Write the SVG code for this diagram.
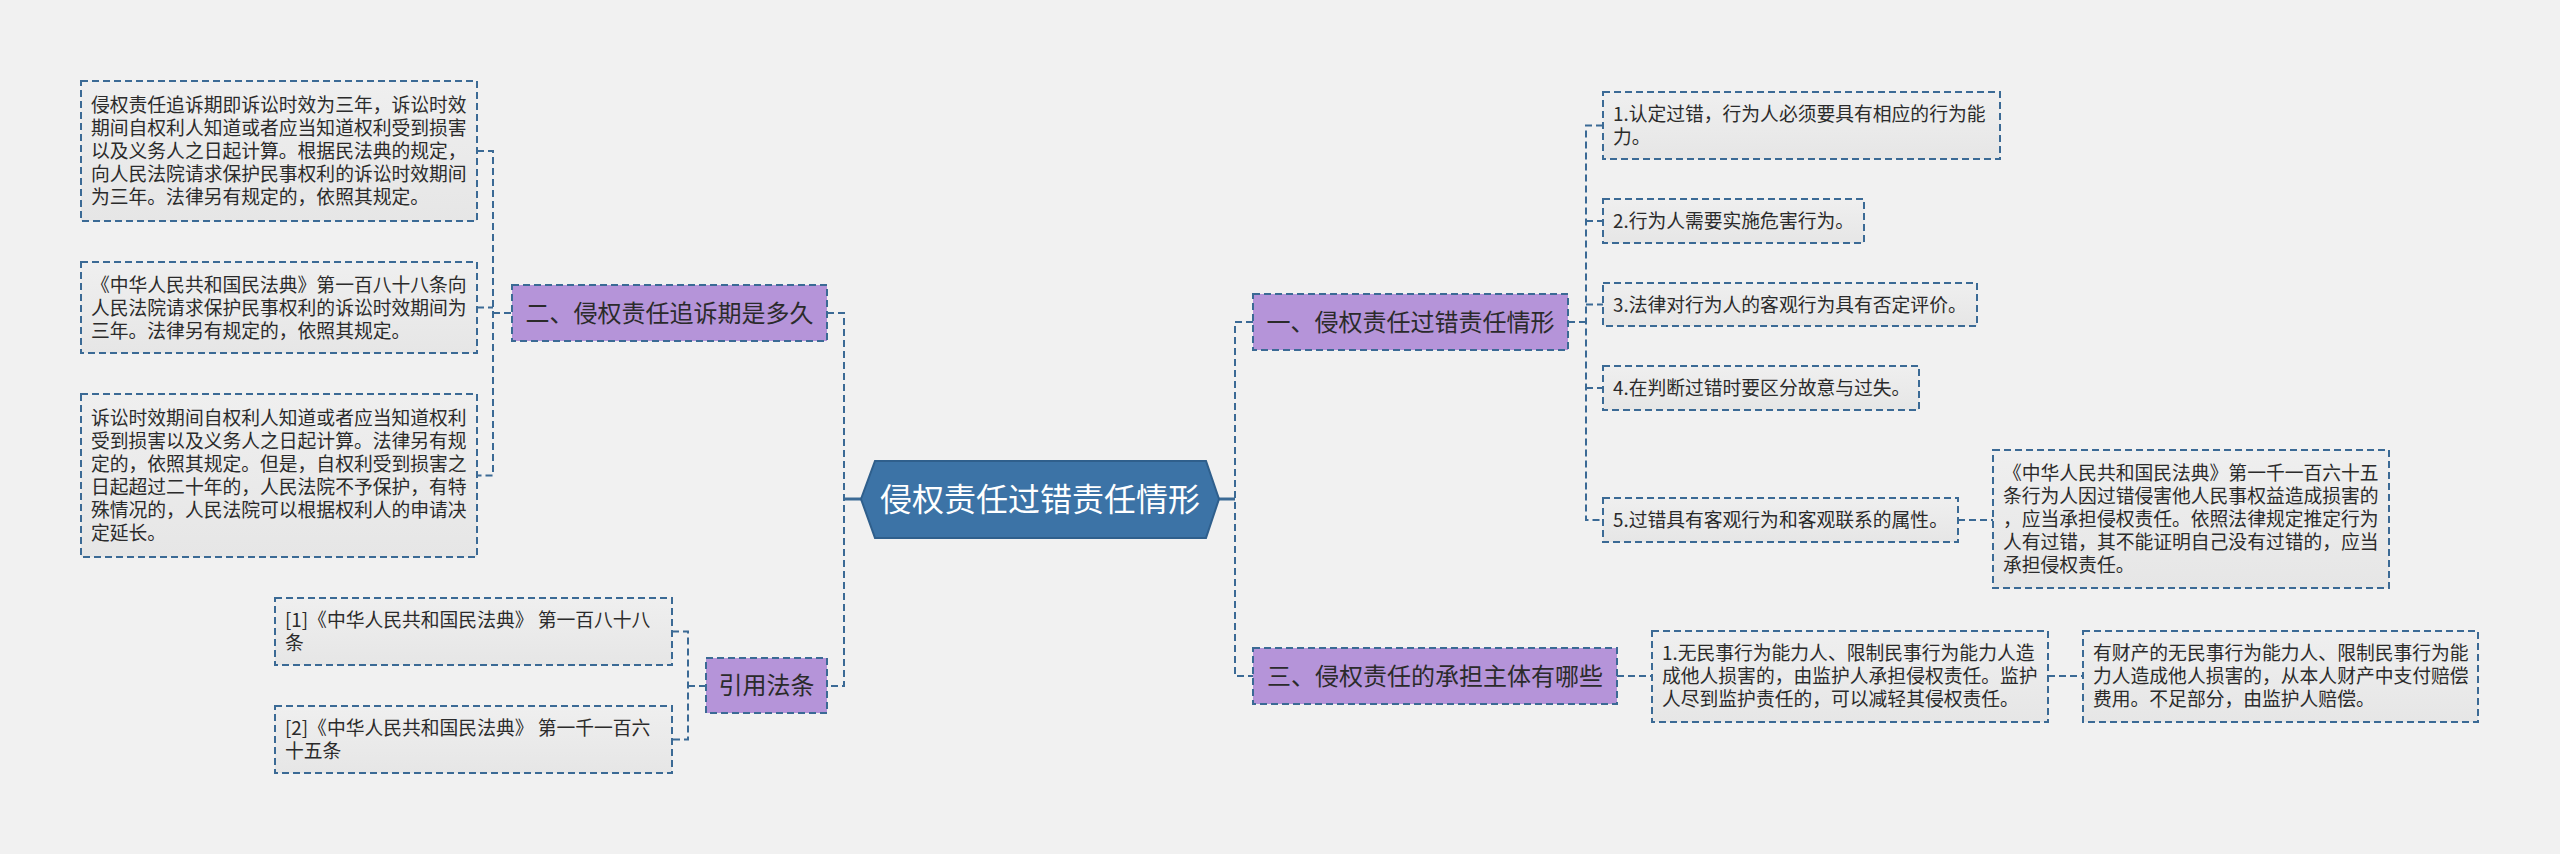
<svg xmlns="http://www.w3.org/2000/svg" width="2560" height="854" viewBox="0 0 2560 854">
<defs>
<linearGradient id="leafg" x1="0" y1="0" x2="0" y2="1">
<stop offset="0" stop-color="#efefef"/>
<stop offset="1" stop-color="#e6e6e6"/>
</linearGradient>
</defs>
<style>
.bg{fill:#f1f1f1}
.leaf{fill:url(#leafg);stroke:#3b6a95;stroke-width:2;stroke-dasharray:7 4}
.branch{fill:#b594d9;stroke:#3b6a95;stroke-width:2;stroke-dasharray:7 4}
.root{fill:#3c73a6;stroke:#2f5f8c;stroke-width:2}
.conn{fill:none;stroke:#3b6a95;stroke-width:2;stroke-dasharray:7 4}
.solid{fill:none;stroke:#3b6a95;stroke-width:3}
.lt{font-family:"Noto Sans CJK SC","Noto Sans",sans-serif;font-size:18.8px;fill:#2b2b2b}
.bt{font-family:"Noto Sans CJK SC","Noto Sans",sans-serif;font-size:24px;fill:#2b2b2b;text-anchor:middle}
.rt{font-family:"Noto Sans CJK SC","Noto Sans",sans-serif;font-size:32px;fill:#ffffff;text-anchor:middle}
</style>
<rect class="bg" x="0" y="0" width="2560" height="854"/>

<g id="connectors">
<path class="solid" d="M861 499 H844"/>
<path class="solid" d="M1219 499 H1235"/>
<path class="conn" d="M827 313 H844 V686 H827"/>
<path class="conn" d="M1253 322 H1235 V676 H1253"/>
<path class="conn" d="M477 151 H493 V475.5 H477 M477 307.5 H493 M493 313 H512"/>
<path class="conn" d="M672 631.5 H688 V739.5 H672 M688 686 H706"/>
<path class="conn" d="M1568 322 H1586 M1603 125.5 H1586 V520 H1603 M1586 221 H1603 M1586 304.5 H1603 M1586 388 H1603"/>
<path class="conn" d="M1958 520 H1993"/>
<path class="conn" d="M1617 676 H1652"/>
<path class="conn" d="M2048 676 H2083"/>
</g>

<g id="root">
<polygon class="root" points="861,499 875,461 1206,461 1219,499 1206,538 875,538"/>
<text class="rt" x="1040" y="511">侵权责任过错责任情形</text>
</g>

<g id="n-er">
<rect class="branch" x="512" y="285" width="315" height="56"/>
<text class="bt" x="669.5" y="321.5">二、侵权责任追诉期是多久</text>
</g>
<g id="n-yinyong">
<rect class="branch" x="706" y="658" width="121" height="55"/>
<text class="bt" x="766.5" y="694">引用法条</text>
</g>
<g id="n-yi">
<rect class="branch" x="1253" y="294" width="315" height="56"/>
<text class="bt" x="1410.5" y="330.5">一、侵权责任过错责任情形</text>
</g>
<g id="n-san">
<rect class="branch" x="1253" y="648" width="364" height="56"/>
<text class="bt" x="1435" y="684.5">三、侵权责任的承担主体有哪些</text>
</g>

<g id="l-a">
<rect class="leaf" x="81" y="81" width="396" height="140"/>
<text class="lt" x="91" y="112">侵权责任追诉期即诉讼时效为三年，诉讼时效</text>
<text class="lt" x="91" y="135">期间自权利人知道或者应当知道权利受到损害</text>
<text class="lt" x="91" y="158">以及义务人之日起计算。根据民法典的规定，</text>
<text class="lt" x="91" y="181">向人民法院请求保护民事权利的诉讼时效期间</text>
<text class="lt" x="91" y="204">为三年。法律另有规定的，依照其规定。</text>
</g>
<g id="l-b">
<rect class="leaf" x="81" y="262" width="396" height="91"/>
<text class="lt" x="91" y="291.5">《中华人民共和国民法典》第一百八十八条向</text>
<text class="lt" x="91" y="314.5">人民法院请求保护民事权利的诉讼时效期间为</text>
<text class="lt" x="91" y="337.5">三年。法律另有规定的，依照其规定。</text>
</g>
<g id="l-c">
<rect class="leaf" x="81" y="394" width="396" height="163"/>
<text class="lt" x="91" y="425">诉讼时效期间自权利人知道或者应当知道权利</text>
<text class="lt" x="91" y="448">受到损害以及义务人之日起计算。法律另有规</text>
<text class="lt" x="91" y="471">定的，依照其规定。但是，自权利受到损害之</text>
<text class="lt" x="91" y="494">日起超过二十年的，人民法院不予保护，有特</text>
<text class="lt" x="91" y="517">殊情况的，人民法院可以根据权利人的申请决</text>
<text class="lt" x="91" y="540">定延长。</text>
</g>
<g id="l-ref1">
<rect class="leaf" x="275" y="598" width="397" height="67"/>
<text class="lt" x="285" y="627">[1]《中华人民共和国民法典》 第一百八十八</text>
<text class="lt" x="285" y="650">条</text>
</g>
<g id="l-ref2">
<rect class="leaf" x="275" y="706" width="397" height="67"/>
<text class="lt" x="285" y="735">[2]《中华人民共和国民法典》 第一千一百六</text>
<text class="lt" x="285" y="758">十五条</text>
</g>

<g id="r-1">
<rect class="leaf" x="1603" y="92" width="397" height="67"/>
<text class="lt" x="1613" y="121">1.认定过错，行为人必须要具有相应的行为能</text>
<text class="lt" x="1613" y="144">力。</text>
</g>
<g id="r-2">
<rect class="leaf" x="1603" y="199" width="261" height="44"/>
<text class="lt" x="1613" y="228">2.行为人需要实施危害行为。</text>
</g>
<g id="r-3">
<rect class="leaf" x="1603" y="283" width="374" height="43"/>
<text class="lt" x="1613" y="311.5">3.法律对行为人的客观行为具有否定评价。</text>
</g>
<g id="r-4">
<rect class="leaf" x="1603" y="366" width="316" height="44"/>
<text class="lt" x="1613" y="395">4.在判断过错时要区分故意与过失。</text>
</g>
<g id="r-5">
<rect class="leaf" x="1603" y="498" width="355" height="44"/>
<text class="lt" x="1613" y="527">5.过错具有客观行为和客观联系的属性。</text>
</g>
<g id="r-5a">
<rect class="leaf" x="1993" y="450" width="396" height="138"/>
<text class="lt" x="2003" y="480">《中华人民共和国民法典》第一千一百六十五</text>
<text class="lt" x="2003" y="503">条行为人因过错侵害他人民事权益造成损害的</text>
<text class="lt" x="2003" y="526">，应当承担侵权责任。依照法律规定推定行为</text>
<text class="lt" x="2003" y="549">人有过错，其不能证明自己没有过错的，应当</text>
<text class="lt" x="2003" y="572">承担侵权责任。</text>
</g>
<g id="r-san1">
<rect class="leaf" x="1652" y="631" width="396" height="91"/>
<text class="lt" x="1662" y="660">1.无民事行为能力人、限制民事行为能力人造</text>
<text class="lt" x="1662" y="683">成他人损害的，由监护人承担侵权责任。监护</text>
<text class="lt" x="1662" y="706">人尽到监护责任的，可以减轻其侵权责任。</text>
</g>
<g id="r-san2">
<rect class="leaf" x="2083" y="631" width="395" height="91"/>
<text class="lt" x="2093" y="660">有财产的无民事行为能力人、限制民事行为能</text>
<text class="lt" x="2093" y="683">力人造成他人损害的，从本人财产中支付赔偿</text>
<text class="lt" x="2093" y="706">费用。不足部分，由监护人赔偿。</text>
</g>
</svg>
